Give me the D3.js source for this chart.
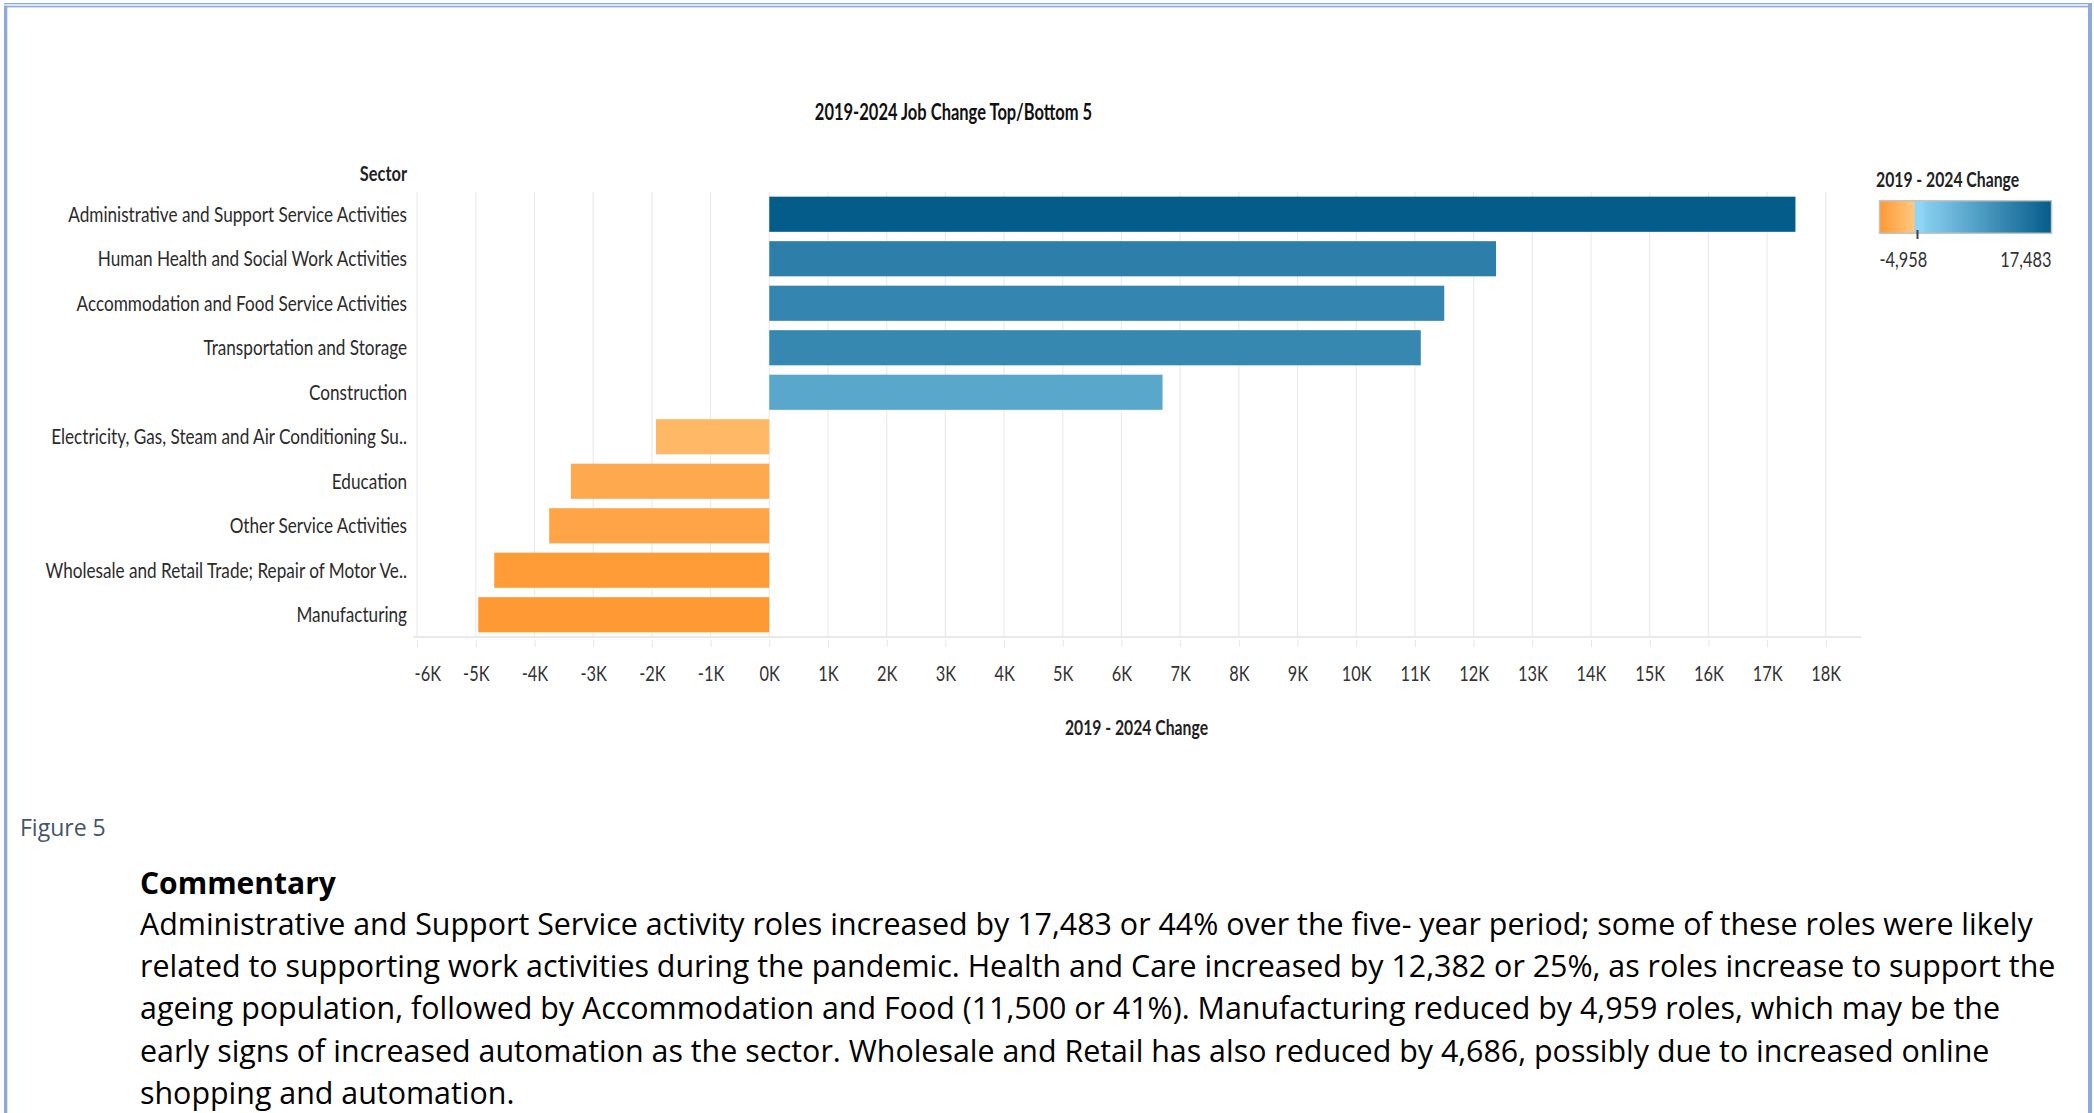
<!DOCTYPE html>
<html><head><meta charset="utf-8">
<script src="https://cdn.jsdelivr.net/npm/d3@7"></script>
<style>
html,body{margin:0;padding:0;background:#fff;overflow:hidden}
svg{display:block}
</style></head><body>
<svg id="c" width="2094" height="1113"></svg>
<script>
// ---------- data ----------
const sectors = [
  "Administrative and Support Service Activities",
  "Human Health and Social Work Activities",
  "Accommodation and Food Service Activities",
  "Transportation and Storage",
  "Construction",
  "Electricity, Gas, Steam and Air Conditioning Su..",
  "Education",
  "Other Service Activities",
  "Wholesale and Retail Trade; Repair of Motor Ve..",
  "Manufacturing"
];
const changes = [17483, 12382, 11500, 11100, 6700, -1930, -3380, -3750, -4686, -4958];
const xTickValues = [-6000,-5000,-4000,-3000,-2000,-1000,0,1000,2000,3000,4000,5000,6000,7000,8000,9000,10000,11000,12000,13000,14000,15000,16000,17000,18000];
const legendLabels = ["-4,958", "17,483"];
const chartTitle = "2019-2024 Job Change Top/Bottom 5";
const axisTitle = "2019 - 2024 Change";
const rowHeader = "Sector";
const figureLabel = "Figure 5";
const commentaryHead = "Commentary";
const commentaryLines = [
  "Administrative and Support Service activity roles increased by 17,483 or 44% over the five- year period; some of these roles were likely",
  "related to supporting work activities during the pandemic. Health and Care increased by 12,382 or 25%, as roles increase to support the",
  "ageing population, followed by Accommodation and Food (11,500 or 41%). Manufacturing reduced by 4,959 roles, which may be the",
  "early signs of increased automation as the sector. Wholesale and Retail has also reduced by 4,686, possibly due to increased online",
  "shopping and automation."
];

// ---------- setup ----------
const svg = d3.select("#c");
const FONT = "Lato, 'Open Sans', sans-serif";
const SQ = 0.78; // horizontal squeeze of chart text

// frame
const frame = svg.append("g").attr("fill", "#8eaadb");
frame.append("rect").attr("x", 4).attr("y", 3).attr("width", 2088).attr("height", 1.3);
frame.append("rect").attr("x", 4).attr("y", 5.7).attr("width", 2088).attr("height", 1.7);
frame.append("rect").attr("x", 4).attr("y", 5.7).attr("width", 3.3).attr("height", 1110);
frame.append("rect").attr("x", 2088).attr("y", 3).attr("width", 4).attr("height", 1110);

const vmin = d3.min(changes), vmax = d3.max(changes);
const x = d3.scaleLinear().domain([-6070, 18600]).range([413, 1861]);
const y = d3.scaleBand().domain(sectors).range([192, 637]).paddingInner(0.21).paddingOuter(0.105);

const negColor = d3.scaleLinear().domain([0, vmin]).range(["#ffcc87", "#ff9933"]);
const posColor = d3.scaleLinear().domain([0, vmax]).range(["#8fd5f5", "#045c8a"]);
const color = v => v < 0 ? negColor(v) : posColor(v);

function sqText(g, tx, ty, txt, o) {
  return g.append("text")
    .attr("transform", `translate(${tx},${ty}) scale(${o.sq || SQ},1)`)
    .attr("dy", "0.35em")
    .attr("text-anchor", o.anchor || "start")
    .attr("font-family", o.family || FONT)
    .attr("font-size", o.size || 20)
    .attr("font-weight", o.weight || 400)
    .attr("fill", o.fill || "#333")
    .text(txt);
}

// title
sqText(svg, 953.5, 112, chartTitle, {anchor: "middle", size: 22, weight: 700, fill: "#111", sq: 0.75});

// gridlines
const grid = svg.append("g");
grid.selectAll("line").data(xTickValues).join("line")
  .attr("x1", d => x(d)).attr("x2", d => x(d))
  .attr("y1", 192).attr("y2", 637)
  .attr("stroke", "#ebebeb").attr("stroke-width", 1.2);

// bars
svg.append("g").selectAll("rect").data(changes).join("rect")
  .attr("x", d => x(Math.min(0, d)))
  .attr("width", d => Math.abs(x(d) - x(0)))
  .attr("y", (d, i) => y(sectors[i]))
  .attr("height", y.bandwidth())
  .attr("fill", d => color(d));

// x axis
const xAxis = d3.axisBottom(x).tickValues(xTickValues).tickSize(10).tickSizeOuter(0)
  .tickFormat(d => (d < 0 ? "-" : "") + Math.abs(d / 1000) + "K");
const gx = svg.append("g").attr("transform", "translate(0,637)").call(xAxis);
gx.select(".domain").remove();
gx.append("line").attr("x1", 413).attr("x2", 1861).attr("y1", 0).attr("y2", 0)
  .attr("stroke", "#e3e3e3").attr("stroke-width", 1.5);
gx.selectAll(".tick line").attr("stroke", "#e6e6e6").attr("y1", 3);
gx.selectAll(".tick text")
  .attr("y", 0).attr("dy", "0.35em")
  .attr("transform", (d, i) => i === 0 ? `translate(-3,37) scale(${SQ},1)` : `translate(0,37) scale(${SQ},1)`)
  .attr("text-anchor", (d, i) => i === 0 ? "start" : "middle")
  .attr("font-family", FONT).attr("font-size", 21).attr("fill", "#333");

// x axis title
sqText(svg, 1136.5, 728, axisTitle, {anchor: "middle", size: 21, weight: 700, fill: "#222", sq: 0.75});

// y axis labels
const yAxis = d3.axisLeft(y).tickSize(0).tickPadding(0);
const gy = svg.append("g").attr("transform", "translate(413,0)").call(yAxis);
gy.select(".domain").remove();
gy.selectAll(".tick text")
  .attr("x", 0).attr("dy", "0.35em")
  .attr("transform", `translate(-6,0) scale(${SQ},1)`)
  .attr("font-family", FONT).attr("font-size", 22).attr("fill", "#2b2b2b");

sqText(svg, 407, 174, rowHeader, {anchor: "end", size: 21, weight: 700, fill: "#222"});

// legend
const lx = d3.scaleLinear().domain([vmin, vmax]).range([1879.5, 2051.5]);
const defs = svg.append("defs");
const grad = defs.append("linearGradient").attr("id", "lg").attr("x1", "0%").attr("x2", "100%");
const frac = v => (lx(v) - lx(vmin)) / (lx(vmax) - lx(vmin));
const stops = [];
d3.range(0, 11).forEach(k => { const v = vmin * (1 - k / 10); stops.push([frac(v) - (k === 10 ? 0.012 : 0), color(v)]); });
d3.range(0, 21).forEach(k => { const v = vmax * k / 20; stops.push([frac(v) + (k === 0 ? 0.03 : 0), color(v)]); });
grad.selectAll("stop").data(stops).join("stop")
  .attr("offset", d => d[0]).attr("stop-color", d => d[1]);
const leg = svg.append("g");
sqText(leg, 1876, 180, axisTitle, {size: 21, weight: 700, fill: "#222", sq: 0.75});
leg.append("rect").attr("x", lx(vmin)).attr("y", 200.7).attr("width", lx(vmax) - lx(vmin)).attr("height", 32.6)
  .attr("fill", "url(#lg)").attr("stroke", "#c4c4c4").attr("stroke-width", 1.5);
leg.append("line").attr("x1", lx(0)).attr("x2", lx(0)).attr("y1", 230).attr("y2", 239)
  .attr("stroke", "#444").attr("stroke-width", 2);
sqText(leg, lx(vmin), 260, legendLabels[0], {size: 21, fill: "#333"});
sqText(leg, lx(vmax), 260, legendLabels[1], {anchor: "end", size: 21, fill: "#333"});

// figure label and commentary
const BODY = "'Open Sans', 'Noto Sans', sans-serif";
sqText(svg, 20, 828, figureLabel, {sq: 1, family: BODY, size: 23, fill: "#44546a"});
sqText(svg, 140, 883, commentaryHead, {sq: 1, family: BODY, size: 30, weight: 700, fill: "#000"});
const lineY = d3.scaleLinear().domain([0, 1]).range([925.5, 967.6]);
svg.append("g").selectAll("text").data(commentaryLines).join("text")
  .attr("x", 140).attr("y", (d, i) => lineY(i)).attr("dy", "0.32em")
  .attr("font-family", BODY).attr("font-size", 30.4).attr("fill", "#000")
  .text(d => d);
</script>
</body></html>
